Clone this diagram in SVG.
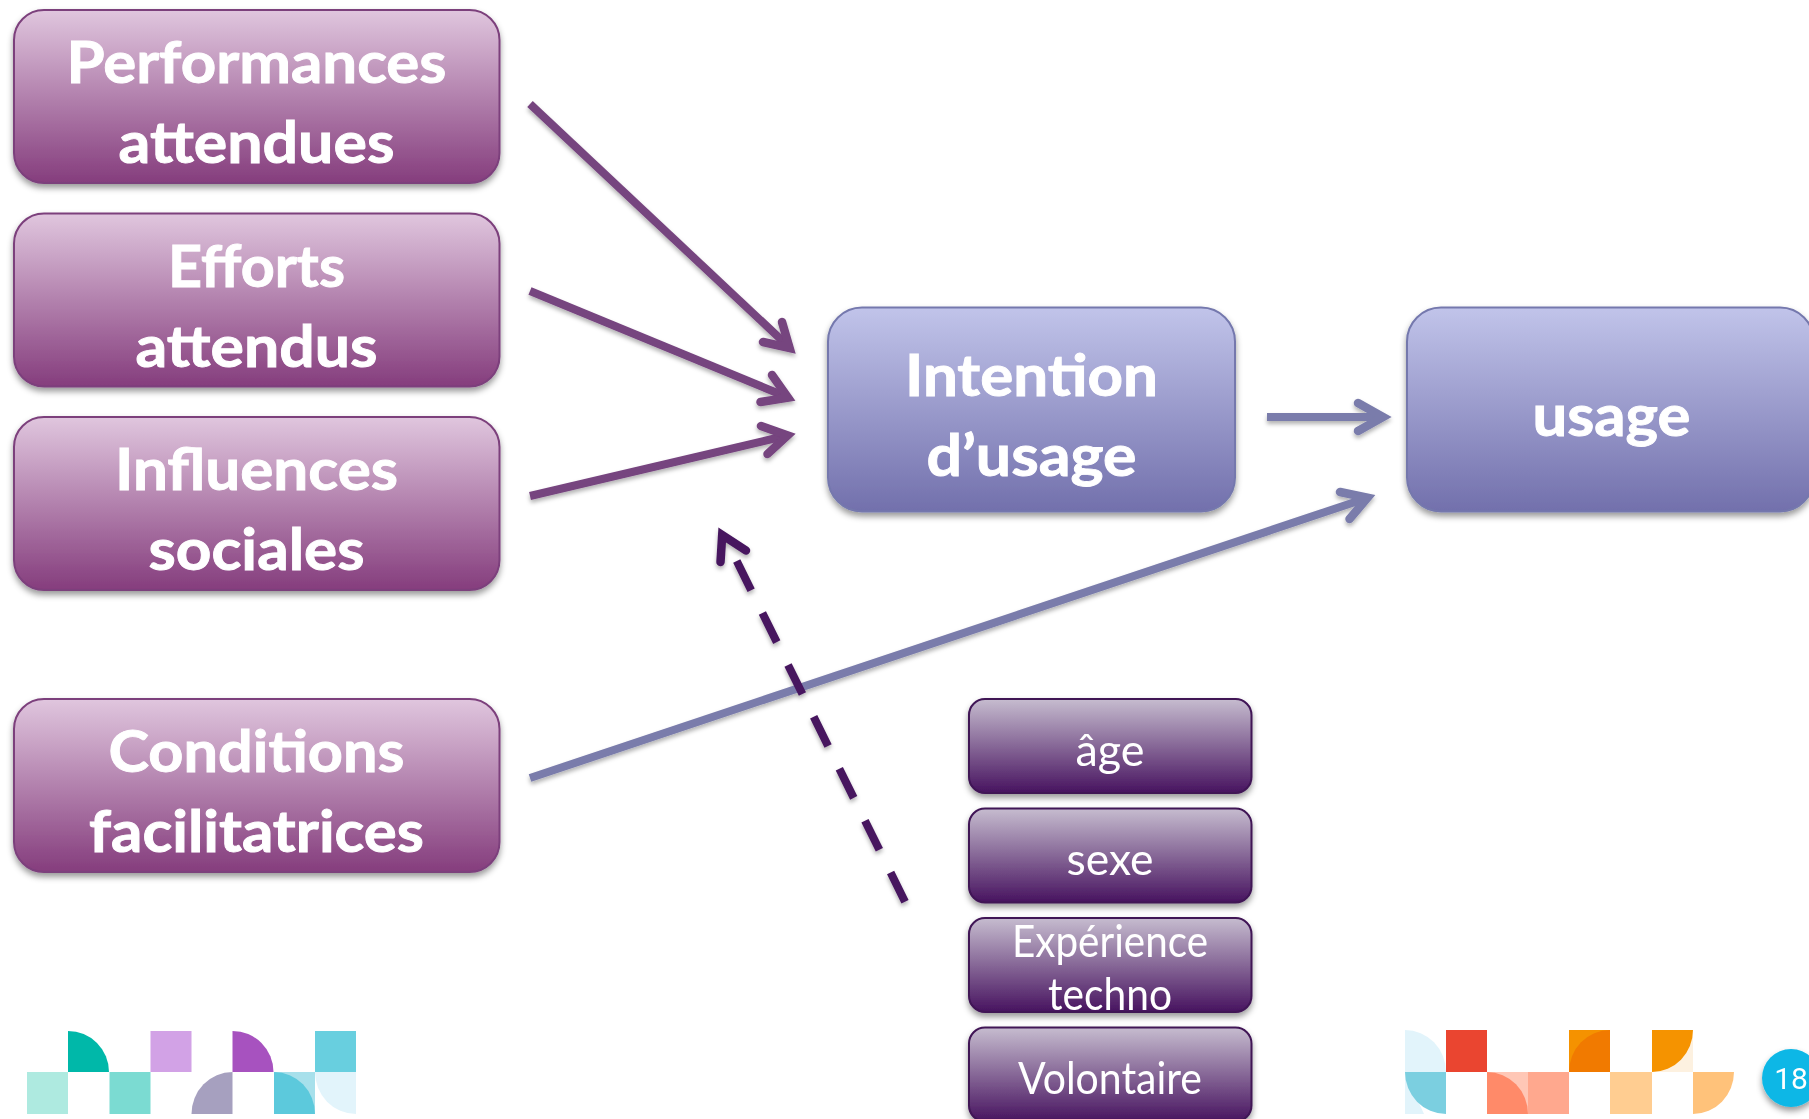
<svg xmlns="http://www.w3.org/2000/svg" width="1809" height="1119" viewBox="0 0 1809 1119">
<style>
.big{font-family:"Lato","Liberation Sans",sans-serif;font-weight:700;font-size:58px;fill:#fff;stroke:#fff;stroke-width:0.9;text-anchor:middle}
.small{font-family:"Lato","Liberation Sans",sans-serif;font-weight:400;font-size:44px;fill:#fff;text-anchor:middle}
.p{fill:url(#gp);stroke:#7c3f7c;stroke-width:2}
.b{fill:url(#gb);stroke:#7478ad;stroke-width:2}
.d{fill:url(#gd);stroke:#3f1355;stroke-width:2}
.n{filter:url(#sh)}
.lp{stroke:#76447f}
.lb{stroke:#7a7cab}
.ld{stroke:#47175f}
.c{fill:none;stroke-width:8;stroke-linecap:butt}
.h{fill:none;stroke-width:8.500;stroke-linejoin:miter;stroke-linecap:round;stroke-miterlimit:8}
</style>
<defs>
<linearGradient id="gp" x1="0" y1="0" x2="0" y2="1"><stop offset="0" stop-color="#e0c6de"/><stop offset="1" stop-color="#853d7d"/></linearGradient>
<linearGradient id="gb" x1="0" y1="0" x2="0" y2="1"><stop offset="0" stop-color="#c1c4ea"/><stop offset="1" stop-color="#7270ac"/></linearGradient>
<linearGradient id="gd" x1="0" y1="0" x2="0" y2="1"><stop offset="0" stop-color="#c6bccf"/><stop offset="1" stop-color="#47135f"/></linearGradient>
<filter id="sh" x="-10%" y="-10%" width="120%" height="130%"><feDropShadow dx="0" dy="4" stdDeviation="3" flood-color="#000" flood-opacity="0.4"/></filter>
<filter id="sl" x="-5%" y="-5%" width="110%" height="115%"><feDropShadow dx="0" dy="3" stdDeviation="2" flood-color="#000" flood-opacity="0.3"/></filter>
</defs>
<rect width="1809" height="1119" fill="#fff"/>

<g id="logo-left">
<path fill="#aeeae0" d="M27 1072h41v42h-41z"/>
<path fill="#00b8a9" d="M68 1031A41 41 0 0 1 109 1072H68z"/>
<path fill="#7bdbd2" d="M109.500 1072h41v42h-41z"/>
<path fill="#d2a2e6" d="M150.500 1031h41v41h-41z"/>
<path fill="#a6a0bf" d="M191.500 1114A41 42 0 0 1 232.500 1072V1114z"/>
<path fill="#a752bf" d="M232.500 1031A41 41 0 0 1 273.500 1072H232.500z"/>
<path fill="#a7e0eb" d="M274 1072h41v42h-41z"/>
<path fill="#5cc9dc" d="M274 1072A41 42 0 0 1 315 1114H274z"/>
<path fill="#68cfdf" d="M315 1031h41v41h-41z"/>
<path fill="#e2f4fb" d="M315 1072h41v42A41 42 0 0 1 315 1072z"/>
</g>
<g id="logo-right">
<path fill="#e2f4fb" d="M1405 1030A41 42 0 0 1 1446 1072H1405z"/>
<path fill="#ea4530" d="M1446 1030h41v42h-41z"/>
<path fill="#f59200" d="M1569 1030h41v42h-41z"/>
<path fill="#f17a00" d="M1569 1072A41 42 0 0 1 1610 1030V1072z"/>
<path fill="#fdf1e0" d="M1652 1030h41v42h-41z"/>
<path fill="#f59300" d="M1652 1030H1693A41 42 0 0 1 1652 1072z"/>
<path fill="#e2f4fb" d="M1405 1072V1114H1424z"/>
<path fill="#7bcfe0" d="M1405 1072H1446V1114A41 42 0 0 1 1405 1072z"/>
<path fill="#ffc7b6" d="M1487 1072h41v42h-41z"/>
<path fill="#ff8a69" d="M1487 1072A41 42 0 0 1 1528 1114H1487z"/>
<path fill="#ffa88e" d="M1528 1072h41v42h-41z"/>
<path fill="#ffcd91" d="M1610 1072h42v42h-42z"/>
<path fill="#ffc27a" d="M1693 1072H1734A41 42 0 0 1 1693 1114z"/>
</g>

<g id="connectors">
<g filter="url(#sl)">
<line class="c lp" x1="530" y1="104" x2="789" y2="347"/>
<polyline class="h lp" points="782,322 789.600,348 763,342"/>
<line class="c lp" x1="530" y1="291" x2="787" y2="397"/>
<polyline class="h lp" points="772,375 788,397.600 760.500,402"/>
<line class="c lp" x1="530" y1="496" x2="787" y2="435.500"/>
<polyline class="h lp" points="761,426 787.600,435.400 767.500,454"/>
<line class="c lb" x1="1267" y1="417" x2="1382" y2="417"/>
<polyline class="h lb" points="1358,403 1383,417 1358,431"/>
<line class="c lb" x1="530" y1="778" x2="1367" y2="498"/>
<polyline class="h lb" points="1340,492 1367.500,497.800 1349.500,519"/>
<line class="c ld" x1="905" y1="901.700" x2="736.700" y2="561" stroke-dasharray="32.500 25.400"/>
<polyline class="h ld" points="720.500,562 722.200,535 746,550.500"/>
</g>
</g>

<g id="n1" class="n"><rect class="p" x="14" y="10" width="485.500" height="173" rx="30"/><text class="big" x="256.500" y="83" textLength="380" lengthAdjust="spacingAndGlyphs">Performances</text><text class="big" x="256.500" y="163" textLength="276" lengthAdjust="spacingAndGlyphs">attendues</text></g>
<g id="n2" class="n"><rect class="p" x="14" y="213.500" width="485.500" height="173" rx="30"/><text class="big" x="256.500" y="287" textLength="177" lengthAdjust="spacingAndGlyphs">Efforts</text><text class="big" x="256.500" y="367" textLength="242" lengthAdjust="spacingAndGlyphs">attendus</text></g>
<g id="n3" class="n"><rect class="p" x="14" y="417" width="485.500" height="173" rx="30"/><text class="big" x="256.500" y="490" textLength="283" lengthAdjust="spacingAndGlyphs">Influences</text><text class="big" x="256.500" y="570" textLength="216" lengthAdjust="spacingAndGlyphs">sociales</text></g>
<g id="n4" class="n"><rect class="p" x="14" y="699" width="485.500" height="173" rx="30"/><text class="big" x="256.500" y="772" textLength="296" lengthAdjust="spacingAndGlyphs">Conditions</text><text class="big" x="256.500" y="852" textLength="335" lengthAdjust="spacingAndGlyphs">facilitatrices</text></g>
<g id="n5" class="n"><rect class="b" x="828" y="307.500" width="407" height="204" rx="34"/><text class="big" x="1031.500" y="396" textLength="253" lengthAdjust="spacingAndGlyphs">Intention</text><text class="big" x="1031.500" y="476" textLength="210" lengthAdjust="spacingAndGlyphs">d’usage</text></g>
<g id="n6" class="n"><rect class="b" x="1407" y="307.500" width="407" height="204" rx="34"/><text class="big" x="1611.500" y="436" textLength="158" lengthAdjust="spacingAndGlyphs">usage</text></g>
<g id="n7" class="n"><rect class="d" x="969" y="699" width="282.500" height="94" rx="16"/><text class="small" x="1110" y="766" textLength="69" lengthAdjust="spacingAndGlyphs">âge</text></g>
<g id="n8" class="n"><rect class="d" x="969" y="808.500" width="282.500" height="94" rx="16"/><text class="small" x="1110" y="875" textLength="87" lengthAdjust="spacingAndGlyphs">sexe</text></g>
<g id="n9" class="n"><rect class="d" x="969" y="918" width="282.500" height="94" rx="16"/><text class="small" x="1110" y="957" textLength="196" lengthAdjust="spacingAndGlyphs">Expérience</text><text class="small" x="1110" y="1010" textLength="124" lengthAdjust="spacingAndGlyphs">techno</text></g>
<g id="n10" class="n"><rect class="d" x="969" y="1027.500" width="282.500" height="94" rx="16"/><text class="small" x="1110" y="1094" textLength="184" lengthAdjust="spacingAndGlyphs">Volontaire</text></g>

<g id="page" class="n"><circle cx="1791" cy="1078" r="29" fill="#0cb7e6"/><text x="1791" y="1089" font-family="Roboto,'Liberation Sans',sans-serif" font-size="30" fill="#fff" text-anchor="middle">18</text></g>
</svg>
